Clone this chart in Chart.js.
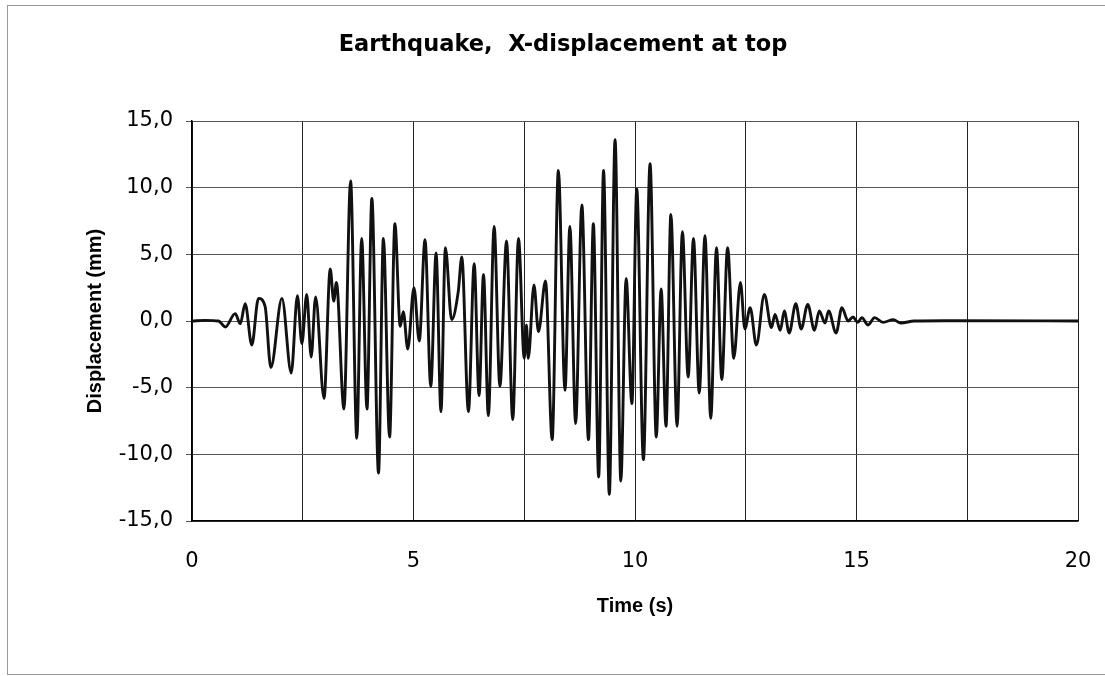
<!DOCTYPE html>
<html>
<head>
<meta charset="utf-8">
<script src="https://cdn.jsdelivr.net/npm/chart.js@4.4.1/dist/chart.umd.min.js"></script>
<style>
	body { margin: 0; background: #fff; }
</style>
</head>
<body>
<canvas id="chart-quake" width="1105" height="676"></canvas>
<script>
// peaks and troughs, time in s
const time = [0, 0.3, 0.6, 0.75, 0.975, 1.09, 1.2, 1.35, 1.5, 1.65, 1.78, 2.03, 2.24, 2.38, 2.48, 2.59, 2.69, 2.79, 2.98,
	3.12, 3.2, 3.26, 3.43, 3.58, 3.72, 3.83, 3.95, 4.06, 4.21, 4.32, 4.46, 4.58, 4.70, 4.77, 4.87,
	5.01, 5.13, 5.26, 5.39, 5.51, 5.62, 5.72, 5.86, 6.01, 6.09, 6.24, 6.37, 6.48, 6.58, 6.69, 6.82, 6.95,
	7.10, 7.24, 7.37, 7.50, 7.55, 7.59, 7.72, 7.82, 7.98, 8.13, 8.27, 8.42, 8.53, 8.66, 8.80, 8.95,
	9.06, 9.18, 9.29, 9.42, 9.55, 9.68, 9.80, 9.93, 10.04, 10.19, 10.34, 10.48, 10.59, 10.70, 10.81, 10.95,
	11.07, 11.20, 11.32, 11.45, 11.58, 11.71, 11.84, 11.96, 12.09, 12.23, 12.38, 12.48, 12.60, 12.74, 12.92,
	13.08, 13.16, 13.28, 13.37, 13.48, 13.63, 13.75, 13.90, 14.05, 14.16, 14.29, 14.37, 14.54, 14.67, 14.81, 14.92,
	15.03, 15.12, 15.26, 15.41, 15.6, 15.83, 16.0, 16.3, 17, 20];
// displacement in mm
const displacement = [0, 0.05, 0, -0.45, 0.55, -0.2, 1.3, -1.8, 1.7, 1.1, -3.5, 1.7, -3.9, 1.9, -1.7, 2.0, -2.7, 1.8, -5.8,
	3.9, 1.5, 2.9, -6.6, 10.5, -8.8, 6.2, -6.6, 9.2, -11.4, 6.2, -8.7, 7.3, -0.4, 0.7, -2.1,
	2.5, -1.5, 6.1, -4.9, 5.1, -6.8, 5.5, 0.1, 2.2, 4.8, -6.8, 4.3, -5.6, 3.5, -7.1, 7.1, -4.9,
	6.0, -7.4, 6.2, -2.8, -0.3, -2.8, 2.7, -0.8, 3.0, -8.9, 11.3, -5.2, 7.1, -7.7, 8.7, -8.9,
	7.3, -11.7, 11.3, -13.0, 13.6, -12.0, 3.2, -6.2, 9.9, -10.4, 11.8, -8.7, 2.4, -7.9, 8.0, -7.9,
	6.7, -4.2, 6.2, -5.4, 6.4, -7.3, 5.5, -4.4, 5.5, -2.8, 2.9, -0.6, 1.0, -1.8, 2.0,
	-0.5, 0.5, -0.7, 0.75, -0.9, 1.3, -0.6, 1.25, -0.7, 0.75, -0.15, 0.75, -0.9, 1.0, 0.0, 0.3,
	-0.1, 0.25, -0.3, 0.25, -0.1, 0.1, -0.15, 0, 0.02, 0];

const xTicks = [0, 5, 10, 15, 20];
const yTicks = [-15, -10, -5, 0, 5, 10, 15];

const labelFont = "'DejaVu Sans', sans-serif";
const titleFont = "'Liberation Sans', Arial, sans-serif";

// thin grey frame round the whole picture, like the scanned page
const pageFrame = {
	id: 'pageFrame',
	beforeDraw(chart) {
		const c = chart.ctx;
		c.save();
		c.strokeStyle = '#999';
		c.lineWidth = 1;
		c.strokeRect(7.5, 5.5, 1110, 669);
		c.restore();
	}
};

const ctx = document.getElementById('chart-quake').getContext('2d');
const quakeChart = new Chart(ctx, {
	type: 'line',
	data: {
		datasets: [{
			data: time.map((t, i) => ({ x: t, y: displacement[i] })),
			borderColor: '#111',
			borderWidth: 2.9,
			pointRadius: 0,
			cubicInterpolationMode: 'monotone',
			fill: false
		}]
	},
	plugins: [pageFrame],
	options: {
		responsive: false,
		animation: false,
		layout: { padding: { left: 48, right: 27, top: 0, bottom: 0 } },
		plugins: {
			legend: { display: false },
			tooltip: { enabled: false },
			title: {
				display: true,
				text: 'Earthquake,  X-displacement at top',
				color: '#000',
				font: { family: labelFont, size: 22.5, weight: 'bold' },
				padding: { top: 32, bottom: 62 }
			}
		},
		scales: {
			x: {
				type: 'linear',
				min: 0,
				max: 20,
				afterFit: scale => {
					scale.height = 155;
					scale.paddingLeft = 0;
					scale.paddingRight = 0;
				},
				afterBuildTicks: scale => {
					scale.ticks = [];
					for (let v = 0; v <= 20; v += 2.5) scale.ticks.push({ value: v });
				},
				ticks: {
					color: '#000',
					padding: 28,
					maxRotation: 0,
					autoSkip: false,
					font: { family: labelFont, size: 21 },
					callback: v => xTicks.includes(v) ? String(v) : ''
				},
				grid: { color: '#222', lineWidth: 1, drawTicks: false },
				border: { color: '#000', width: 1.5 },
				title: {
					display: true,
					text: 'Time (s)',
					color: '#000',
					font: { family: titleFont, size: 20, weight: 'bold' },
					padding: { top: 0, bottom: 58 }
				}
			},
			y: {
				min: -15,
				max: 15,
				afterFit: scale => { scale.width = 144; },
				afterBuildTicks: scale => {
					scale.ticks = yTicks.map(v => ({ value: v }));
				},
				ticks: {
					color: '#000',
					padding: 13,
					font: { family: labelFont, size: 21 },
					callback: v => v.toFixed(1).replace('.', ',')
				},
				grid: { color: '#555', lineWidth: 1, tickLength: 6 },
				border: { color: '#000', width: 1.5 },
				title: {
					display: true,
					text: 'Displacement (mm)',
					color: '#000',
					font: { family: titleFont, size: 20, weight: 'bold' },
					padding: { top: 35, bottom: 0 }
				}
			}
		}
	}
});
</script>
</body>
</html>
